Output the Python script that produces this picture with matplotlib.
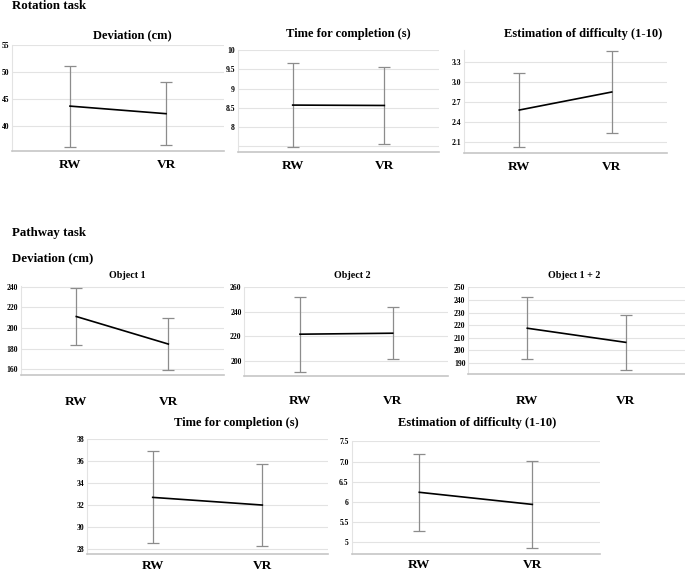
#Plotting Libraries
import matplotlib
matplotlib.use("Agg")
import matplotlib.pyplot as plt

plt.rcParams['font.family'] = ['Liberation Serif', 'DejaVu Serif']
plt.rcParams['font.weight'] = 'bold'

#Data: group labels, means and standard deviations for every panel
groups = ["RW", "VR"]

rot_dev_mean = [43.7, 42.3]
rot_dev_sd = [7.5, 5.8]
rot_time_mean = [8.57, 8.56]
rot_time_sd = [1.09, 1.00]
rot_diff_mean = [2.58, 2.85]
rot_diff_sd = [0.55, 0.61]

path_obj1_mean = [211.0, 184.4]
path_obj1_sd = [27.6, 24.8]
path_obj2_mean = [221.6, 222.4]
path_obj2_sd = [30.5, 21.2]
path_obj12_mean = [217.6, 206.4]
path_obj12_sd = [24.7, 21.7]
path_time_mean = [32.67, 31.97]
path_time_sd = [4.2, 3.78]
path_diff_mean = [6.24, 5.94]
path_diff_sd = [0.95, 1.07]

#Tick values and labels
rot_dev_ticks = [40, 45, 50, 55]
rot_dev_labels = ["40", "45", "50", "55"]
rot_time_ticks = [7.5, 8, 8.5, 9, 9.5, 10]
rot_time_labels = ["", "8", "8.5", "9", "9.5", "10"]
rot_diff_ticks = [2.1, 2.4, 2.7, 3.0, 3.3]
rot_diff_labels = ["2.1", "2.4", "2.7", "3.0", "3.3"]
obj1_ticks = [160, 180, 200, 220, 240]
obj2_ticks = [200, 220, 240, 260]
obj12_ticks = [190, 200, 210, 220, 230, 240, 250]
path_time_ticks = [28, 30, 32, 34, 36, 38]
path_diff_ticks = [5, 5.5, 6, 6.5, 7.0, 7.5]
path_diff_labels = ["5", "5.5", "6", "6.5", "7.0", "7.5"]

W, H = 685, 572
fig = plt.figure(figsize=(W / 100, H / 100), dpi=100)

#Pixel helper: x of RW, x of VR, top, bottom
def make_axes(xrw, xvr, top, bottom):
    d = xvr - xrw
    left = xrw - 0.6 * d
    right = xvr + 0.6 * d
    return fig.add_axes([left / W, 1 - bottom / H, (right - left) / W, (bottom - top) / H])

def draw_panel(ax, mean, sd, ylim, ticks, labels, xpad):
    x = list(range(len(groups)))
    ax.errorbar(x, mean, yerr=sd, fmt="none", ecolor="#8c8c8c", elinewidth=0.9,
                capsize=4, capthick=0.9, zorder=3)
    ax.plot(x, mean, color="black", lw=1.2, zorder=4)
    ax.set_xlim(-0.6, 1.6)
    ax.set_ylim(*ylim)
    ax.set_yticks(ticks)
    ax.set_yticklabels(labels, fontsize=5.5, fontweight="bold")
    ax.set_xticks(x)
    ax.set_xticklabels(groups, fontsize=9.5, fontweight="bold")
    ax.tick_params(axis="y", length=0, pad=2)
    ax.tick_params(axis="x", length=0, pad=xpad)
    ax.grid(axis="y", color="#e3e3e3", lw=0.8, zorder=0)
    for s in ["top", "right"]:
        ax.spines[s].set_visible(False)
    ax.spines["left"].set_color("#e3e3e3")
    ax.spines["bottom"].set_color("#c6c6c6")
    ax.spines["bottom"].set_linewidth(1.2)
    ax.set_facecolor("none")

def ptitle(x, y, s, size=9):
    fig.text(x / W, 1 - y / H, s, ha="center", va="center", fontsize=size, fontweight="bold")

def header(y, s):
    fig.text(12 / W, 1 - y / H, s, ha="left", va="center", fontsize=9.3, fontweight="bold")

#Rotation task
header(6, "Rotation task")
ax = make_axes(70, 166, 45, 151)
draw_panel(ax, rot_dev_mean, rot_dev_sd, (35.4, 55), rot_dev_ticks, rot_dev_labels, 6)
ptitle(132, 35, "Deviation (cm)")
ax = make_axes(292.7, 384.3, 50, 151.7)
draw_panel(ax, rot_time_mean, rot_time_sd, (7.36, 10), rot_time_ticks, rot_time_labels, 6)
ptitle(348, 34, "Time for completion (s)")
ax = make_axes(519.3, 611.7, 50, 152.7)
draw_panel(ax, rot_diff_mean, rot_diff_sd, (1.94, 3.48), rot_diff_ticks, rot_diff_labels, 6)
ptitle(583, 34, "Estimation of difficulty (1-10)")

#Pathway task
header(233, "Pathway task")
header(258, "Deviation (cm)")
ax = make_axes(76.3, 168.3, 286, 375)
draw_panel(ax, path_obj1_mean, path_obj1_sd, (154.5, 240.5), obj1_ticks,
           [str(t) for t in obj1_ticks], 15)
ptitle(127, 276, "Object 1", 7.2)
ax = make_axes(300, 392.7, 287, 376)
draw_panel(ax, path_obj2_mean, path_obj2_sd, (187.5, 260.1), obj2_ticks,
           [str(t) for t in obj2_ticks], 14)
ptitle(352, 275, "Object 2", 7.2)
ax = make_axes(527.3, 625.7, 287, 374)
draw_panel(ax, path_obj12_mean, path_obj12_sd, (181.3, 250.3), obj12_ticks,
           [str(t) for t in obj12_ticks], 15)
ptitle(574, 275, "Object 1 + 2", 7.2)

ax = make_axes(152.7, 262.3, 439, 554)
draw_panel(ax, path_time_mean, path_time_sd, (27.5, 38.0), path_time_ticks,
           [str(t) for t in path_time_ticks], 4)
ptitle(236, 423, "Time for completion (s)")
ax = make_axes(419.3, 532.3, 441, 553.7)
draw_panel(ax, path_diff_mean, path_diff_sd, (4.72, 7.51), path_diff_ticks, path_diff_labels, 4)
ptitle(477, 423, "Estimation of difficulty (1-10)")

fig.savefig("out.png", dpi=100)
